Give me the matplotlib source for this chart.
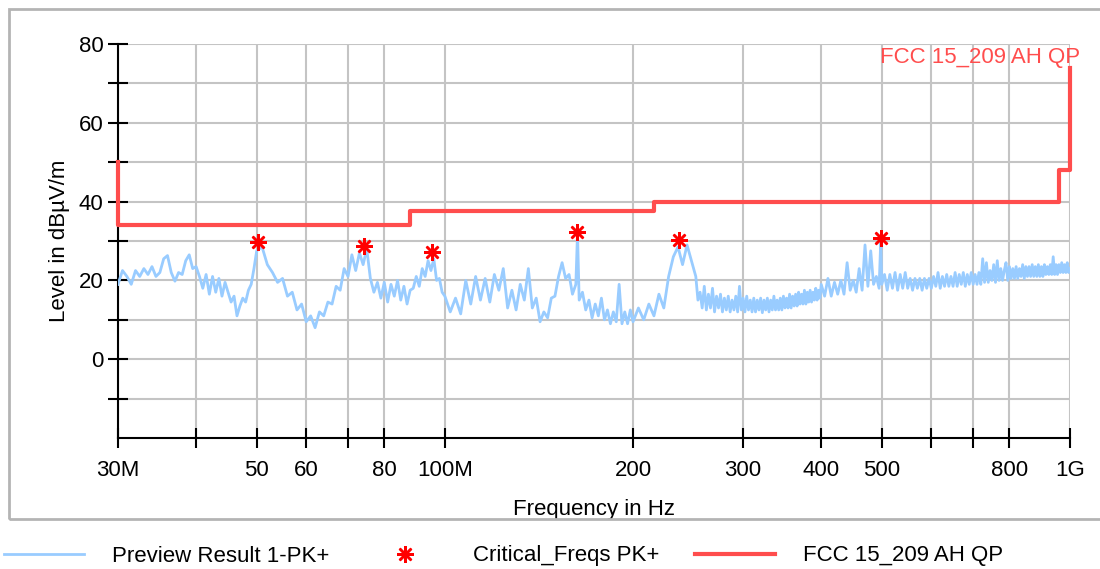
import numpy as np
import matplotlib.pyplot as plt
from matplotlib.patches import Rectangle

plt.rcParams['font.family'] = ['Liberation Sans', 'DejaVu Sans']

# preview scan (MHz, dBuV/m)
scan_f = [30.0, 30.5, 31.0, 31.5, 32.0, 32.5, 33.0, 33.5, 34.0, 34.5,
          35.0, 35.5, 36.0, 36.5, 37.0, 37.5, 38.0, 38.5, 39.0, 39.5,
          40.0, 40.5, 41.0, 41.5, 42.0, 42.5, 43.0, 43.5, 44.0, 44.5,
          45.0, 45.5, 46.0, 46.5, 47.0, 47.5, 48.0, 48.5, 49.0, 49.5,
          50, 51, 52, 53, 54, 55, 56, 57, 58, 59,
          60, 61, 62, 63, 64, 65, 66, 67, 68, 69,
          70, 71, 72, 73, 74, 75, 76, 77, 78, 79,
          80, 81, 82, 83, 84, 85, 86, 87, 88, 89,
          90, 91, 92, 93, 94, 95, 96, 97, 98, 99,
          100, 102, 104, 106, 108, 110, 112, 114, 116, 118,
          120, 122, 124, 126, 128, 130, 132, 134, 136, 138,
          140, 142, 144, 146, 148, 150, 152, 154, 156, 158,
          160, 162, 163, 164, 166, 168, 170, 172, 174, 176, 178,
          180, 182, 184, 186, 188, 190, 192, 194, 196, 198,
          200, 204, 208, 212, 216, 220, 224, 228, 232, 236,
          240, 244, 248,
          252, 254, 256, 258, 260, 262, 264, 266, 268, 270,
          272, 274, 276, 278, 280, 282, 284, 286, 288, 290,
          292, 294, 296, 298, 300, 302, 304, 306, 308, 310,
          312, 314, 316, 318, 320, 322, 324, 326, 328, 330,
          332, 334, 336, 338, 340, 342, 344, 346, 348, 350,
          352, 354, 356, 358, 360, 362, 364, 366, 368, 370,
          372, 374, 376, 378, 380, 382, 384, 386, 388, 390,
          392, 394, 396, 398,
          400, 405, 410, 415, 420, 425, 430, 435, 440, 445,
          450, 455, 460, 465, 470, 475, 480, 485, 490, 495, 498,
          500, 505, 510, 515, 520, 525, 530, 535, 540, 545,
          550, 555, 560, 565, 570, 575, 580, 585, 590, 595,
          600, 605, 610, 615, 620, 625, 630, 635, 640, 645,
          650, 655, 660, 665, 670, 675, 680, 685, 690, 695,
          700, 705, 710, 715, 720, 725, 730, 735, 740, 745,
          750, 755, 760, 765, 770, 775, 780, 785, 790, 795,
          800, 805, 810, 815, 820, 825, 830, 835, 840, 845,
          850, 855, 860, 865, 870, 875, 880, 885, 890, 895,
          900, 905, 910, 915, 920, 925, 930, 935, 940, 945,
          950, 955, 960, 965, 970, 975, 980, 985, 990, 995, 1000]
scan_v = [19, 22.5, 21, 19, 22.5, 21, 23, 21.5, 23.5, 21,
          22, 25.5, 26.3, 22, 19.8, 22, 21.5, 25, 26.5, 23,
          23.5, 21, 18, 21.5, 16.5, 21, 17, 20.5, 16, 19.5,
          17, 14.5, 16, 11, 13.5, 15.5, 14.5, 17.5, 19, 23,
          27.5, 28.5, 24, 22, 19.5, 20.5, 16, 17, 12.5, 14,
          9.5, 11, 8, 12, 11, 14.5, 14, 18.5, 17.5, 23,
          21, 26.5, 22.5, 27, 24, 28, 20.5, 17, 19.5, 15.5,
          19.5, 14.5, 19, 16, 20, 15, 18.5, 14, 17.5, 18,
          21, 18.5, 23, 21, 25, 22.5, 25.5, 20, 20.5, 17,
          16, 12, 15.5, 11.5, 20, 14, 21, 15, 20.5, 14.5,
          21.5, 17.5, 23, 13, 17.5, 12.5, 19, 15, 23, 13,
          15.5, 9.5, 12, 10.5, 15.5, 16, 21, 24.5, 20.5, 21.5,
          16.5, 19, 32, 15, 17, 12.5, 15, 10.5, 14, 11, 15.5,
          10, 12.5, 9, 12, 9.5, 19, 9, 12, 9, 12.5,
          9.5, 13, 10, 14, 11, 16.5, 13, 21, 26, 28.5,
          24, 29, 25,
          21, 15, 17, 13, 18.5, 12.5, 16.5, 13, 18, 12,
          16, 13, 16.5, 12, 15.5, 12.5, 16, 12, 15, 12.5,
          16, 12, 18.5, 12.5, 15.5, 12, 16, 12.5, 15, 12,
          15.5, 12, 15, 12.5, 15.5, 11.8, 15, 12.5, 15.5, 12,
          15, 12.5, 16, 12.5, 15, 12.5, 15.5, 12.5, 16, 13,
          15.5, 13, 16.5, 13, 16, 13.5, 16.5, 13.5, 17, 14,
          16.5, 14, 17.5, 14, 17, 14.5, 17.5, 14.5, 17, 15,
          18, 15, 17.5, 15.5,
          19, 16, 20.5, 16, 19.5, 16.5, 20, 16.5, 24.5, 17.5,
          20, 17, 23, 17.5, 29, 18.5, 27.5, 19, 21, 18, 30,
          19, 21.5, 17.5, 21.5, 18, 22, 17.5, 21.5, 18, 22,
          18, 20.5, 17.5, 20.5, 18, 20.5, 17.5, 20.5, 18, 20.5,
          18, 21, 18.5, 22, 18, 21, 18.5, 21.5, 18.5, 21,
          18.5, 22, 18.5, 21.5, 19, 22, 18.5, 21.5, 19, 22,
          19, 21.5, 19, 22, 19, 25.5, 19.5, 24.5, 19.5, 22.5,
          20, 24, 19.5, 25, 20, 23, 20, 22.5, 24.5, 20,
          23.5, 20.5, 23, 20.5, 23.5, 20.5, 23, 21, 24, 20.5,
          23.5, 21, 23.5, 21, 24, 21, 23.5, 21, 24, 21,
          23.5, 21, 24, 21.5, 23.5, 21.5, 24, 21.5, 26, 21.5,
          24, 21.5, 24, 22, 24.5, 22, 24, 22, 24.5, 22, 23]

# critical frequencies PK+
crit_f = [50.2, 74.2, 95.4, 162.7, 237.0, 498.6]
crit_v = [29.7, 28.7, 27.2, 32.3, 30.3, 30.8]

# FCC 15.209 limit steps
lim_f = [30, 30, 88, 88, 216, 216, 960, 960, 1000, 1000]
lim_v = [50, 34, 34, 37.5, 37.5, 40, 40, 48, 48, 74]

xticks = [30, 40, 50, 60, 70, 80, 100, 200, 300, 400, 500, 600, 700, 800, 1000]
xlabels = ['30M', '', '50', '60', '', '80', '100M', '200', '300', '400', '500', '', '', '800', '1G']
yticks = [-10, 0, 10, 20, 30, 40, 50, 60, 70, 80]
ylabels = ['', '0', '', '20', '', '40', '', '60', '', '80']

fig = plt.figure(figsize=(11, 5.69), dpi=100)
ax = fig.add_axes([118 / 1100, 1 - 438 / 569, 952 / 1100, 394 / 569])

ax.plot(scan_f, scan_v, color='#99ccff', lw=2, label='Preview Result 1-PK+', zorder=3)
ax.plot(crit_f, crit_v, ls='none', marker=(8, 2, 0), ms=12, mew=1.8, color='#ff0000',
        label='Critical_Freqs PK+', zorder=6)
ax.plot(lim_f, lim_v, color='#ff4d4d', lw=3, label='FCC 15_209 AH QP', zorder=5, clip_on=False)

ax.set_xscale('log')
ax.set_xlim(30, 1000)
ax.set_ylim(-20, 80)
ax.set_xticks(xticks)
ax.set_xticklabels(xlabels)
ax.xaxis.set_minor_locator(plt.NullLocator())
ax.set_yticks(yticks)
ax.set_yticklabels(ylabels)

ax.grid(True, color='#c4c4c4', lw=1.5)
ax.set_axisbelow(True)
for s in ['top', 'right']:
    ax.spines[s].set_visible(False)
for s in ['left', 'bottom']:
    ax.spines[s].set_linewidth(1.5)
ax.tick_params(direction='inout', length=15, width=1.5, labelsize=16)
ax.tick_params(axis='x', pad=8)
ax.tick_params(axis='y', pad=3)

ax.set_xlabel('Frequency in Hz', fontsize=16, labelpad=13)
ax.set_ylabel('Level in dBµV/m', fontsize=16, labelpad=6)

ax.text(1080 / 1100, 1 - 57 / 569, 'FCC 15_209 AH QP', transform=fig.transFigure,
        color='#ff4d4d', fontsize=16, ha='right', va='center')

fig.patches.append(Rectangle((0.008, 1 - 519 / 569), 1.0, 0.896, transform=fig.transFigure,
                             fill=False, ec='#b4b4b4', lw=2))

fig.legend(loc='center left', bbox_to_anchor=(0.004, 1 - 556 / 569), ncol=3, frameon=False,
           fontsize=16, handlelength=3.6, handletextpad=1.25, columnspacing=1.6,
           borderpad=0, borderaxespad=0, numpoints=1)

fig.savefig('out.png', dpi=100)
